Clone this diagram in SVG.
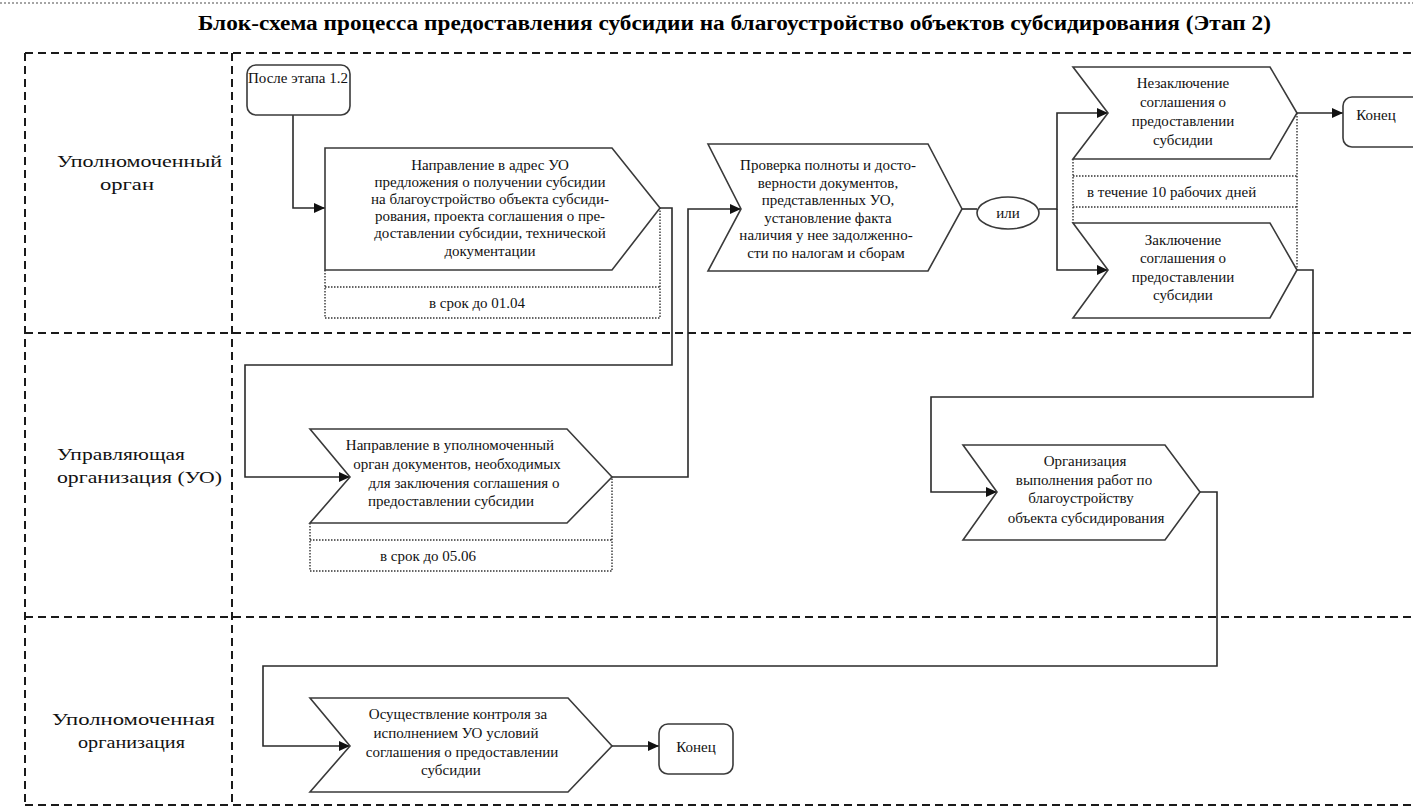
<svg xmlns="http://www.w3.org/2000/svg" width="1413" height="809" viewBox="0 0 1413 809" font-family="'Liberation Serif', 'DejaVu Serif', 'Times New Roman', serif">
<defs>
<marker id="arr" markerUnits="userSpaceOnUse" markerWidth="11" markerHeight="10" refX="11" refY="5" orient="auto">
<path d="M0,0 L11,5 L0,10 Z" fill="#111"/>
</marker>
<style>
.lane{fill:none;stroke:#1a1a1a;stroke-width:2;stroke-dasharray:8 5}
.shape{fill:#fff;stroke:#3a3a3a;stroke-width:1.6}
.dot{fill:none;stroke:#333;stroke-width:1.4;stroke-dasharray:1.5 1.5}
.conn{fill:none;stroke:#2a2a2a;stroke-width:1.6}
.t{font-family:'Liberation Serif','DejaVu Serif',serif;font-size:15px;fill:#111}
.c{text-anchor:middle}
.lbl{font-family:'Liberation Serif','DejaVu Serif',serif;font-size:17px;fill:#111}
.title{font-family:'Liberation Serif','DejaVu Serif',serif;font-size:20px;font-weight:bold;fill:#000}
</style>
</defs>
<rect width="1413" height="809" fill="#fff"/>
<line x1="0" y1="3" x2="1413" y2="3" stroke="#888" stroke-width="1.5" stroke-dasharray="2 2"/>
<text class="title" x="198" y="30" textLength="1073" lengthAdjust="spacingAndGlyphs">Блок-схема процесса предоставления субсидии на благоустройство объектов субсидирования (Этап 2)</text>

<g id="lanes">
<path class="lane" d="M25,53 H1413 M25,53 V805 M25,805 H1413 M232,53 V805 M25,333 H1413 M25,617 H1413"/>
<text class="lbl" x="57" y="167" textLength="165" lengthAdjust="spacingAndGlyphs">Уполномоченный</text>
<text class="lbl" x="100" y="190" textLength="54" lengthAdjust="spacingAndGlyphs">орган</text>
<text class="lbl" x="57" y="460" textLength="128" lengthAdjust="spacingAndGlyphs">Управляющая</text>
<text class="lbl" x="57" y="483" textLength="165" lengthAdjust="spacingAndGlyphs">организация (УО)</text>
<text class="lbl" x="52" y="725" textLength="163" lengthAdjust="spacingAndGlyphs">Уполномоченная</text>
<text class="lbl" x="78" y="748" textLength="107" lengthAdjust="spacingAndGlyphs">организация</text>
</g>

<g id="connectors">
<path class="conn" d="M293,115 V208 H325" marker-end="url(#arr)"/>
<path class="conn" d="M660,208 H672 V365 H245 V477 H350" marker-end="url(#arr)"/>
<path class="conn" d="M612,477 H688 V209 H741" marker-end="url(#arr)"/>
<path class="conn" d="M962,209 H977"/>
<path class="conn" d="M1039,209 H1057 V113 H1108" marker-end="url(#arr)"/>
<path class="conn" d="M1057,209 V270 H1108" marker-end="url(#arr)"/>
<path class="conn" d="M1297,113 H1343" marker-end="url(#arr)"/>
<path class="conn" d="M1297,270 H1313 V397 H931 V492 H997" marker-end="url(#arr)"/>
<path class="conn" d="M1200,492 H1217 V666 H263 V746 H350" marker-end="url(#arr)"/>
<path class="conn" d="M612,746 H659" marker-end="url(#arr)"/>
</g>

<g id="start">
<rect class="shape" x="247" y="65" width="103" height="50" rx="9"/>
<text class="t c" x="298" y="83">После этапа 1.2</text>
</g>

<g id="n1">
<path class="shape" d="M325,148 H612 L660,208 L612,270 H325 Z"/>
<path class="dot" d="M325,270 V318 H660 V208 M325,287 H660"/>
<text class="t c" x="490" y="170">Направление в адрес УО</text>
<text class="t c" x="490" y="187">предложения о получении субсидии</text>
<text class="t c" x="490" y="204">на благоустройство объекта субсиди-</text>
<text class="t c" x="490" y="221">рования, проекта соглашения о пре-</text>
<text class="t c" x="490" y="238">доставлении субсидии, технической</text>
<text class="t c" x="490" y="256">документации</text>
<text class="t c" x="477" y="308">в срок до 01.04</text>
</g>

<g id="n2">
<path class="shape" d="M310,429 H567 L612,477 L567,523 H310 L350,477 Z"/>
<path class="dot" d="M310,523 V571 H612 V477 M310,540 H612"/>
<text class="t c" x="450" y="450">Направление в уполномоченный</text>
<text class="t c" x="457" y="469">орган документов, необходимых</text>
<text class="t c" x="464" y="488">для заключения соглашения о</text>
<text class="t c" x="451" y="506">предоставлении субсидии</text>
<text class="t c" x="428" y="561">в срок до 05.06</text>
</g>

<g id="n3">
<path class="shape" d="M708,144 H928 L962,209 L928,271 H708 L741,209 Z"/>
<text class="t c" x="828" y="170">Проверка полноты и досто-</text>
<text class="t c" x="828" y="188">верности документов,</text>
<text class="t c" x="828" y="205">представленных УО,</text>
<text class="t c" x="828" y="223">установление факта</text>
<text class="t c" x="826" y="240">наличия у нее задолженно-</text>
<text class="t c" x="826" y="258">сти по налогам и сборам</text>
</g>

<g id="or">
<ellipse class="shape" cx="1008" cy="213" rx="31" ry="16"/>
<text class="t c" x="1008" y="218">или</text>
</g>

<g id="n4">
<path class="shape" d="M1073,67 H1270 L1297,113 L1270,159 H1073 L1108,113 Z"/>
<path class="dot" d="M1073,159 V223 M1297,113 V270 M1073,176 H1297 M1073,207 H1297"/>
<text class="t c" x="1183" y="88">Незаключение</text>
<text class="t c" x="1183" y="107">соглашения о</text>
<text class="t c" x="1183" y="126">предоставлении</text>
<text class="t c" x="1183" y="145">субсидии</text>
<text class="t" x="1087" y="197">в течение 10 рабочих дней</text>
</g>

<g id="n5">
<path class="shape" d="M1073,223 H1270 L1297,270 L1270,318 H1073 L1108,270 Z"/>
<text class="t c" x="1183" y="245">Заключение</text>
<text class="t c" x="1183" y="263">соглашения о</text>
<text class="t c" x="1183" y="282">предоставлении</text>
<text class="t c" x="1183" y="300">субсидии</text>
</g>

<g id="end1">
<rect class="shape" x="1343" y="97" width="90" height="50" rx="9"/>
<text class="t c" x="1376" y="120">Конец</text>
</g>

<g id="n6">
<path class="shape" d="M963,445 H1165 L1200,492 L1165,540 H963 L997,492 Z"/>
<text class="t c" x="1085" y="466">Организация</text>
<text class="t c" x="1084" y="485">выполнения  работ по</text>
<text class="t c" x="1081" y="503">благоустройству</text>
<text class="t c" x="1086" y="523">объекта субсидирования</text>
</g>

<g id="n7">
<path class="shape" d="M310,698 H568 L612,746 L568,792 H310 L350,746 Z"/>
<text class="t c" x="458" y="719">Осуществление контроля за</text>
<text class="t c" x="456" y="738">исполнением УО условий</text>
<text class="t c" x="462" y="757">соглашения о предоставлении</text>
<text class="t c" x="451" y="775">субсидии</text>
</g>

<g id="end2">
<rect class="shape" x="659" y="724" width="74" height="50" rx="9"/>
<text class="t c" x="696" y="752">Конец</text>
</g>
</svg>
